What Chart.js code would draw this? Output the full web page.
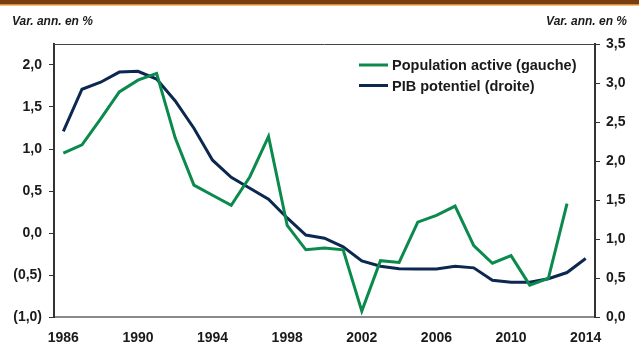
<!DOCTYPE html>
<html>
<head>
<meta charset="utf-8">
<script src="https://cdn.jsdelivr.net/npm/chart.js@4/dist/chart.umd.min.js"></script>
<style>
    html, body { margin: 0; padding: 0; background: #ffffff; }
    #wrap { position: relative; width: 639px; height: 344px; }
</style>
</head>
<body>
<div id="wrap"><canvas id="chart" width="639" height="344"></canvas></div>
<script>
const years = [1986, 1987, 1988, 1989, 1990, 1991, 1992, 1993, 1994, 1995, 1996, 1997, 1998, 1999, 2000,
    2001, 2002, 2003, 2004, 2005, 2006, 2007, 2008, 2009, 2010, 2011, 2012, 2013, 2014];
const populationActive = [0.95, 1.05, 1.36, 1.68, 1.82, 1.90, 1.13, 0.57, 0.45, 0.33, 0.67, 1.15, 0.09, -0.20, -0.18,
    -0.20, -0.93, -0.33, -0.35, 0.13, 0.21, 0.32, -0.15, -0.36, -0.27, -0.62, -0.54, 0.35, null];
const pibPotentiel = [2.38, 2.92, 3.01, 3.14, 3.15, 3.05, 2.77, 2.42, 2.01, 1.79, 1.65, 1.51, 1.27, 1.05, 1.01,
    0.90, 0.72, 0.65, 0.62, 0.615, 0.615, 0.65, 0.63, 0.47, 0.445, 0.445, 0.49, 0.57, 0.75];
const seriesNames = ['Population active (gauche)', 'PIB potentiel (droite)'];
const unitLabel = 'Var. ann. en %';

const green = '#0a8a4c';
const navy = '#0c2850';
const textColor = '#1a1a1a';
Chart.defaults.font.family = "'Liberation Sans', Arial, sans-serif";

function fmt(v) {
    const s = Math.abs(v).toFixed(1).replace('.', ',');
    return v < 0 ? '(' + s + ')' : s;
}

// top band, titles, top border and the legend
const decor = {
    id: 'decor',
    beforeDraw(chart) {
        const ctx = chart.ctx;
        ctx.save();
        ctx.fillStyle = '#ffffff';
        ctx.fillRect(0, 0, chart.width, chart.height);
        ctx.fillStyle = '#7a3e0e';
        ctx.fillRect(0, 0, chart.width, 4);
        ctx.fillStyle = '#d9892e';
        ctx.fillRect(0, 4, chart.width, 1.5);
        ctx.restore();
    },
    afterDraw(chart) {
        const ctx = chart.ctx;
        const a = chart.chartArea;
        ctx.save();
        ctx.fillStyle = textColor;
        ctx.font = "italic bold 12px 'Liberation Sans', Arial, sans-serif";
        ctx.textBaseline = 'alphabetic';
        ctx.textAlign = 'left';
        ctx.fillText(unitLabel, 12, 25);
        ctx.textAlign = 'right';
        ctx.fillText(unitLabel, 627, 25);

        ctx.strokeStyle = '#444444';
        ctx.lineWidth = 1;
        ctx.beginPath();
        ctx.moveTo(a.left, a.top + 0.5);
        ctx.lineTo(a.right, a.top + 0.5);
        ctx.stroke();

        const colors = [green, navy];
        ctx.font = "bold 14.5px 'Liberation Sans', Arial, sans-serif";
        ctx.textAlign = 'left';
        ctx.textBaseline = 'middle';
        seriesNames.forEach((name, i) => {
            const y = 65 + i * 20.5;
            ctx.strokeStyle = colors[i];
            ctx.lineWidth = 3;
            ctx.beginPath();
            ctx.moveTo(359, y);
            ctx.lineTo(388, y);
            ctx.stroke();
            ctx.fillStyle = textColor;
            ctx.fillText(name, 392, y + 1);
        });
        ctx.restore();
    }
};

const chart1 = document.getElementById('chart');

new Chart(chart1, {
    type: 'line',
    data: {
        labels: years,
        datasets: [{
            label: seriesNames[0],
            data: populationActive,
            borderColor: green,
            borderWidth: 3,
            pointRadius: 0,
            tension: 0,
            yAxisID: 'y'
        }, {
            label: seriesNames[1],
            data: pibPotentiel,
            borderColor: navy,
            borderWidth: 3,
            pointRadius: 0,
            tension: 0,
            yAxisID: 'y1'
        }]
    },
    options: {
        responsive: false,
        animation: false,
        layout: { padding: { top: 44, right: 0, bottom: 0, left: 0 } },
        plugins: {
            legend: { display: false },
            tooltip: { enabled: false }
        },
        scales: {
            x: {
                offset: true,
                grid: { display: false },
                border: { display: true, color: '#8a8a8a', width: 2 },
                ticks: {
                    autoSkip: false,
                    maxRotation: 0,
                    padding: 5,
                    color: textColor,
                    font: { size: 14, weight: 'bold' },
                    callback: function (v, i) {
                        return (years[i] - 1986) % 4 === 0 ? String(years[i]) : '';
                    }
                },
                afterFit: function (s) { s.height = 27; }
            },
            y: {
                position: 'left',
                min: -1,
                max: 2.25,
                afterBuildTicks: function (s) {
                    s.ticks = [-1, -0.5, 0, 0.5, 1, 1.5, 2].map(v => ({ value: v }));
                },
                grid: { drawOnChartArea: false, drawTicks: true, tickLength: 5, color: '#333333' },
                border: { display: true, color: '#333333', width: 2 },
                ticks: {
                    padding: 7,
                    color: textColor,
                    font: { size: 14, weight: 'bold' },
                    callback: v => fmt(v)
                },
                afterFit: function (s) { s.width = 54; }
            },
            y1: {
                position: 'right',
                min: 0,
                max: 3.5,
                afterBuildTicks: function (s) {
                    s.ticks = [0, 0.5, 1, 1.5, 2, 2.5, 3, 3.5].map(v => ({ value: v }));
                },
                grid: { drawOnChartArea: false, drawTicks: true, tickLength: 5, color: '#333333' },
                border: { display: true, color: '#333333', width: 2 },
                ticks: {
                    padding: 6,
                    color: textColor,
                    font: { size: 14, weight: 'bold' },
                    callback: v => fmt(v)
                },
                afterFit: function (s) { s.width = 44; }
            }
        }
    },
    plugins: [decor]
});
</script>
</body>
</html>
